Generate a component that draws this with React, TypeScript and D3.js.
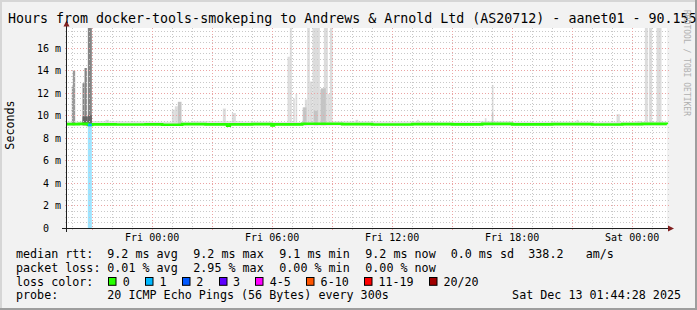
import React from "react";
import * as d3 from "d3";

const W = 697;
const H = 310;

const titleText = "Hours from docker-tools-smokeping to Andrews & Arnold Ltd (AS20712) - aanet01 - 90.155";
const watermarkText = "RRDTOOL / TOBI OETIKER";
const yAxisTitle = "Seconds";

const rangeStart = "2025-12-11 19:44:28";
const rangeEnd = "2025-12-13 01:44:28";
const yMax = 17.75;

const yLabelValues = [0, 2, 4, 6, 8, 10, 12, 14, 16];
const yLabelTexts = ["0", "2 m", "4 m", "6 m", "8 m", "10 m", "12 m", "14 m", "16 m"];

const xLabelTimes = [
  "2025-12-12 00:00:00",
  "2025-12-12 06:00:00",
  "2025-12-12 12:00:00",
  "2025-12-12 18:00:00",
  "2025-12-13 00:00:00",
];
const xLabelTexts = ["Fri 00:00", "Fri 06:00", "Fri 12:00", "Fri 18:00", "Sat 00:00"];

// median rtt (ms), step series
const medianTimes = [
  "2025-12-11 19:44", "2025-12-11 20:20", "2025-12-11 20:47", "2025-12-11 21:00",
  "2025-12-11 22:10", "2025-12-11 23:40", "2025-12-12 00:30", "2025-12-12 01:30",
  "2025-12-12 02:40", "2025-12-12 03:45", "2025-12-12 03:53", "2025-12-12 05:00",
  "2025-12-12 05:58", "2025-12-12 06:05", "2025-12-12 07:30", "2025-12-12 09:30",
  "2025-12-12 11:00", "2025-12-12 13:00", "2025-12-12 15:00", "2025-12-12 16:30",
  "2025-12-12 18:00", "2025-12-12 20:00", "2025-12-12 22:00", "2025-12-12 23:30",
  "2025-12-13 00:30", "2025-12-13 01:44",
];
const medianValues = [
  9.22, 9.24, 9.15, 9.2,
  9.18, 9.2, 9.17, 9.22,
  9.2, 9.08, 9.2, 9.22,
  9.1, 9.2, 9.25, 9.22,
  9.18, 9.22, 9.2, 9.24,
  9.2, 9.22, 9.18, 9.22,
  9.24, 9.2,
];

// packet loss periods
const lossStarts = ["2025-12-11 20:47"];
const lossEnds = ["2025-12-11 20:59"];
const lossCounts = [1];

// smoke (ping spread) spikes: start, duration (min), top (ms), density layer
const smokeTimes = [
  "2025-12-11 19:59", "2025-12-11 20:02", "2025-12-11 20:31", "2025-12-11 20:37", "2025-12-11 20:47",
  "2025-12-11 21:40", "2025-12-12 00:59", "2025-12-12 01:08", "2025-12-12 01:17", "2025-12-12 03:32",
  "2025-12-12 03:59", "2025-12-12 06:46", "2025-12-12 06:53", "2025-12-12 07:03", "2025-12-12 07:10",
  "2025-12-12 07:31", "2025-12-12 07:38", "2025-12-12 07:45", "2025-12-12 07:53", "2025-12-12 08:01",
  "2025-12-12 08:23", "2025-12-12 08:35", "2025-12-12 08:47", "2025-12-12 08:53", "2025-12-12 10:10",
  "2025-12-12 13:14", "2025-12-12 16:38", "2025-12-12 16:59", "2025-12-12 21:13", "2025-12-12 23:13",
  "2025-12-13 00:13", "2025-12-13 00:38", "2025-12-13 00:50", "2025-12-13 01:13",
  // inner layers
  "2025-12-12 07:33", "2025-12-12 08:26", "2025-12-12 01:17", "2025-12-12 16:59", "2025-12-12 08:05",
  // dark cores
  "2025-12-11 20:31", "2025-12-11 20:47",
];
const smokeMinutes = [
  5, 7, 6, 7, 12,
  10, 9, 9, 9, 9,
  12, 7, 6, 5, 5,
  7, 7, 8, 8, 22,
  12, 12, 6, 8, 8,
  6, 5, 5, 6, 10,
  15, 9, 10, 15,
  10, 15, 11, 4, 12,
  16, 12,
];
const smokeTops = [
  12.55, 13.96, 12.85, 14.2, 17.75,
  9.6, 10.5, 10.8, 10.3, 10.6,
  10.2, 15.2, 17.75, 11.5, 11.9,
  10.7, 11.4, 17.75, 13.0, 17.75,
  12.3, 17.75, 11.9, 17.75, 9.6,
  9.6, 9.75, 12.7, 9.6, 10.1,
  9.5, 17.75, 17.75, 17.75,
  10.7, 12.4, 11.2, 10.2, 10.4,
  9.9, 10.0,
];
// 0 = outer, 1 = inner, 2 = dense, 3 = very dense, 4 = core
const smokeLayers = [
  2, 2, 3, 3, 3,
  0, 0, 0, 0, 0,
  0, 0, 0, 0, 0,
  0, 0, 0, 0, 0,
  0, 0, 0, 0, 0,
  0, 0, 0, 0, 0,
  0, 0, 0, 0,
  1, 1, 1, 1, 1,
  4, 4,
];

// faint smoke band just above median
const bandTimes = [
  "2025-12-11 19:44", "2025-12-11 21:00", "2025-12-11 22:30", "2025-12-12 00:00",
  "2025-12-12 02:00", "2025-12-12 04:30", "2025-12-12 06:00", "2025-12-12 09:00",
  "2025-12-12 11:00", "2025-12-12 14:00", "2025-12-12 16:00", "2025-12-12 18:00",
  "2025-12-12 20:00", "2025-12-12 22:00", "2025-12-13 00:00", "2025-12-13 01:44",
];
const bandTops = [
  9.45, 9.5, 9.48, 9.42,
  9.5, 9.45, 9.4, 9.48,
  9.45, 9.42, 9.5, 9.44,
  9.46, 9.42, 9.45, 9.45,
];

const rttLabel = "median rtt:";
const rttStats = ["9.2 ms avg", "9.2 ms max", "9.1 ms min", "9.2 ms now", "0.0 ms sd", "338.2", "am/s"];
const lossLabel = "packet loss:";
const lossStats = ["0.01 % avg", "2.95 % max", "0.00 % min", "0.00 % now"];
const lossColorLabel = "loss color:";
const lossColorNames = ["0", "1", "2", "3", "4-5", "6-10", "11-19", "20/20"];
const lossColorValues = ["#26ff00", "#00b8ff", "#0059ff", "#5e00ff", "#ff00ff", "#ff5500", "#ff0000", "#a10000"];
const probeLabel = "probe:";
const probeText = "20 ICMP Echo Pings (56 Bytes) every 300s";
const stampText = "Sat Dec 13 01:44:28 2025";

const FONT = "'DejaVu Sans Mono', 'Liberation Mono', monospace";
const smokeColors = ["#dcdcdc", "#c4c4c4", "#9a9a9a", "#858585", "#666666"];

const pSec = d3.timeParse("%Y-%m-%d %H:%M:%S");
const pMin = d3.timeParse("%Y-%m-%d %H:%M");

export default function App() {
  const t0 = pSec(rangeStart) as Date;
  const t1 = pSec(rangeEnd) as Date;
  const x = d3.scaleTime().domain([t0, t1]).range([67, 667]);
  const y = d3.scaleLinear().domain([0, yMax]).range([228, 28]);

  const hours = d3.timeHour.range(t0, t1);
  const minorH = d3.range(0.5, yMax, 0.5).filter((v) => v % 2 !== 0);
  const majorH = d3.range(2, yMax, 2);

  const crisp = (v: number) => Math.round(v) + 0.5;

  // band area
  const bandData = bandTimes.map((t, i) => ({ t: pMin(t) as Date, v: bandTops[i] }));
  const bandArea = d3
    .area<{ t: Date; v: number }>()
    .x((d) => x(d.t))
    .y0(y(9.1))
    .y1((d) => y(d.v))
    .curve(d3.curveStepAfter)(bandData);

  const medData = medianTimes.map((t, i) => ({ t: pMin(t) as Date, v: medianValues[i] }));
  const medLine = d3
    .line<{ t: Date; v: number }>()
    .x((d) => x(d.t))
    .y((d) => y(d.v))
    .curve(d3.curveStepAfter)(medData);

  const medianAt = (t: Date) => {
    let v = medianValues[0];
    medData.forEach((d) => {
      if (d.t <= t) v = d.v;
    });
    return v;
  };

  const order = smokeLayers.map((l, i) => i).sort((a, b) => smokeLayers[a] - smokeLayers[b]);

  const colX = [107.3, 193.3, 279.3, 365.3, 450.7, 528.3, 585.7];
  const rows = [258, 271.8, 285.6, 299.4];
  const fs = 11.7;
  const cw = fs * 0.602;

  let bx = 108.3;
  const boxes = lossColorNames.map((name, i) => {
    const item = { x: bx, name, color: lossColorValues[i] };
    bx += 14.5 + name.length * cw + 15.2;
    return item;
  });

  return (
    <svg
      width={W}
      height={H}
      viewBox={`0 0 ${W} ${H}`}
      style={{ position: "absolute", left: 0, top: 0, display: "block" }}
      fontFamily={FONT}
    >
      <rect x={0} y={0} width={W} height={H} fill="#f2f2f2" />
      <rect x={0} y={0} width={W} height={2} fill="#d6d6d6" />
      <rect x={0} y={0} width={2} height={H} fill="#d6d6d6" />
      <rect x={0} y={H - 2} width={W} height={2} fill="#9e9e9e" />
      <rect x={W - 2} y={0} width={2} height={H} fill="#9e9e9e" />

      <rect x={67} y={28} width={600} height={200} fill="#ffffff" />

      {/* smoke */}
      <path d={bandArea || ""} fill="#e4e4e4" />
      {order.map((i) => {
        const s = pMin(smokeTimes[i]) as Date;
        const e = d3.timeMinute.offset(s, smokeMinutes[i]);
        const x0 = x(s);
        const x1 = x(e);
        const top = y(Math.min(smokeTops[i], yMax));
        return (
          <rect
            key={"s" + i}
            x={x0}
            y={top}
            width={x1 - x0}
            height={y(9.12) - top}
            fill={smokeColors[smokeLayers[i]]}
          />
        );
      })}

      {/* loss bars */}
      {lossStarts.map((ls, i) => {
        const s = pMin(ls) as Date;
        const e = pMin(lossEnds[i]) as Date;
        const m = medianAt(s);
        return (
          <rect
            key={"l" + i}
            x={x(s)}
            y={y(m)}
            width={x(e) - x(s)}
            height={y(0) - y(m)}
            fill={lossColorValues[lossCounts[i]]}
            fillOpacity={0.38}
          />
        );
      })}

      {/* grid */}
      <g shapeRendering="crispEdges" strokeWidth={1} strokeDasharray="1,2">
        {minorH.map((v) => (
          <line key={"mh" + v} x1={65} x2={669} y1={crisp(y(v))} y2={crisp(y(v))} stroke="#c8c8c8" />
        ))}
        {hours
          .filter((h) => h.getHours() % 3 !== 0)
          .map((h) => (
            <line key={"mv" + +h} x1={crisp(x(h))} x2={crisp(x(h))} y1={28} y2={231} stroke="#c8c8c8" />
          ))}
        {majorH.map((v) => (
          <line key={"Mh" + v} x1={65} x2={669} y1={crisp(y(v))} y2={crisp(y(v))} stroke="#eba3a3" />
        ))}
        {hours
          .filter((h) => h.getHours() % 3 === 0)
          .map((h) => (
            <line key={"Mv" + +h} x1={crisp(x(h))} x2={crisp(x(h))} y1={28} y2={231} stroke="#eba3a3" />
          ))}
      </g>

      {/* median */}
      <path d={medLine || ""} fill="none" stroke={lossColorValues[0]} strokeWidth={2.6} />
      {lossStarts.map((ls, i) => {
        const s = pMin(ls) as Date;
        const e = pMin(lossEnds[i]) as Date;
        const m = medianAt(s);
        return (
          <line
            key={"lm" + i}
            x1={x(s)}
            x2={x(e)}
            y1={y(m)}
            y2={y(m)}
            stroke={lossColorValues[lossCounts[i]]}
            strokeWidth={2.6}
          />
        );
      })}

      {/* axes */}
      <g shapeRendering="crispEdges">
        <line x1={62} x2={669} y1={228.5} y2={228.5} stroke="#1f1f1f" />
        <line x1={66.5} x2={66.5} y1={232} y2={25} stroke="#1f1f1f" />
      </g>
      <polygon points="63.5,26.5 66.5,20.5 69.5,26.5" fill="#801f1f" />
      <polygon points="668,225.5 674,228.5 668,231.5" fill="#801f1f" />

      {/* y labels */}
      {yLabelValues.map((v, i) => (
        <text
          key={"yl" + v}
          x={v === 0 ? 49 : 61}
          y={y(v) + 3.8}
          fontSize={10}
          textAnchor="end"
          fill="#000"
        >
          {yLabelTexts[i]}
        </text>
      ))}

      {/* x labels */}
      {xLabelTimes.map((t, i) => (
        <text key={"xl" + i} x={x(pSec(t) as Date)} y={241.3} fontSize={10} textAnchor="middle" fill="#000">
          {xLabelTexts[i]}
        </text>
      ))}

      {/* y axis title */}
      <text transform="translate(14.3,125) rotate(-90)" fontSize={fs} textAnchor="middle" fill="#000">
        {yAxisTitle}
      </text>

      {/* title */}
      <text x={8} y={23.3} fontSize={13.3} fill="#000">
        {titleText}
      </text>

      {/* watermark */}
      <text transform="translate(684,10) rotate(90)" fontSize={8} fill="#b0b0b0">
        {watermarkText}
      </text>

      {/* legend */}
      <g fontSize={fs} fill="#000">
        <text x={16} y={rows[0]}>{rttLabel}</text>
        {rttStats.map((s, i) => (
          <text key={"r" + i} x={colX[i]} y={rows[0]}>{s}</text>
        ))}
        <text x={16} y={rows[1]}>{lossLabel}</text>
        {lossStats.map((s, i) => (
          <text key={"p" + i} x={colX[i]} y={rows[1]}>{s}</text>
        ))}
        <text x={16} y={rows[2]}>{lossColorLabel}</text>
        {boxes.map((b, i) => (
          <g key={"b" + i}>
            <rect x={Math.round(b.x) + 0.5} y={rows[2] - 8.1} width={7.5} height={7.8} fill={b.color} stroke="#000" strokeWidth={1} />
            <text x={b.x + 14.5}>
              <tspan y={rows[2]}>{b.name}</tspan>
            </text>
          </g>
        ))}
        <text x={16} y={rows[3]}>{probeLabel}</text>
        <text x={colX[0]} y={rows[3]}>{probeText}</text>
        <text x={681} y={rows[3]} textAnchor="end">{stampText}</text>
      </g>
    </svg>
  );
}
